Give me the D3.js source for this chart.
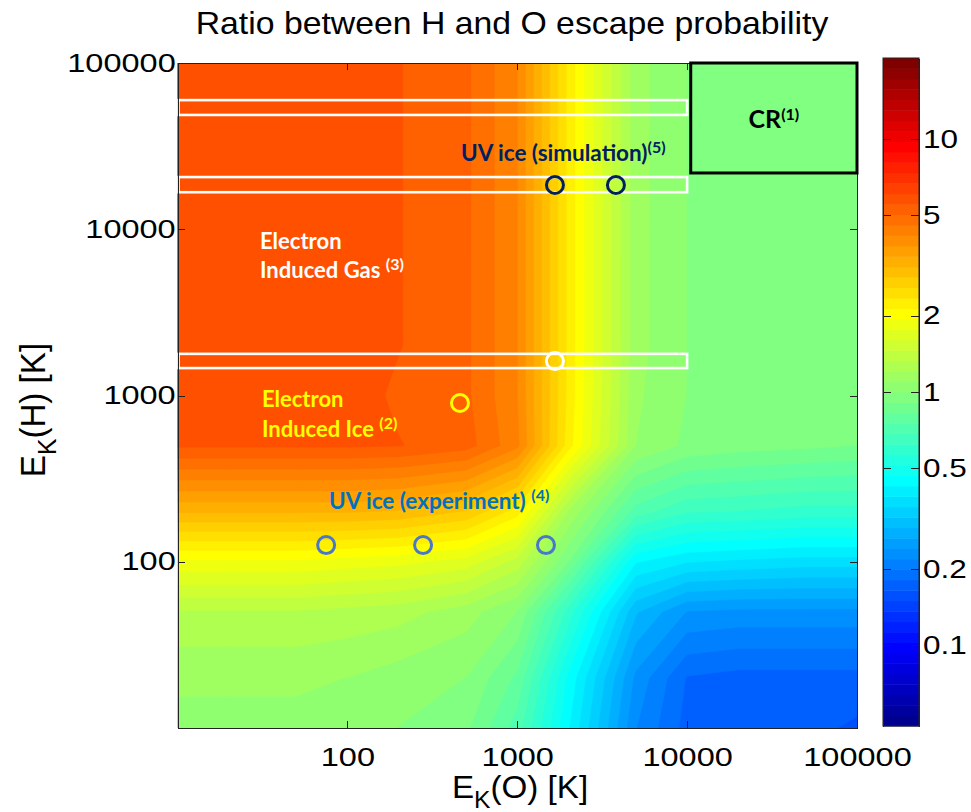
<!DOCTYPE html>
<html>
<head>
<meta charset="utf-8">
<script src="https://cdn.jsdelivr.net/npm/d3@7"></script>
<style>
	html, body { margin: 0; padding: 0; background: #fff; }
	svg { display: block; }
	.axis text { font-family: "Liberation Sans", Arial, sans-serif; font-size: 25px; fill: #000; }
	.axis path, .axis line { stroke: #222; stroke-width: 1; shape-rendering: crispEdges; }
	.label { font-family: "Liberation Sans", Arial, sans-serif; fill: #000; }
	.note { font-family: Lato, "Open Sans", sans-serif; font-weight: 700; }
</style>
</head>
<body>
<svg id="chart" width="971" height="812"></svg>
<script>
;(function() {
	"use strict";

	// kinetic energy grid of the runs (K)
	var energyO = [10, 20, 50, 100, 200, 500, 1000, 2000, 5000, 10000, 20000, 50000, 100000];
	var energyH = [10, 20, 50, 100, 200, 500, 1000, 2000, 5000, 10000, 20000, 50000, 100000];

	// ratio of H to O escape probability, one row per E_K(H), columns follow energyO
	var ratioH10     = [1.07, 1.07, 1.07, 1.05, 1.00, 0.93, 0.72, 0.43, 0.22, 0.175, 0.17, 0.17, 0.162];
	var ratioH20     = [1.12, 1.12, 1.12, 1.10, 1.05, 1.00, 0.81, 0.46, 0.235, 0.18, 0.175, 0.175, 0.175];
	var ratioH50     = [1.32, 1.32, 1.32, 1.29, 1.26, 1.15, 1.00, 0.60, 0.295, 0.24, 0.235, 0.235, 0.235];
	var ratioH100    = [1.91, 1.91, 1.91, 1.86, 1.82, 1.70, 1.41, 0.91, 0.43, 0.39, 0.38, 0.37, 0.37];
	var ratioH200    = [3.16, 3.16, 3.16, 3.16, 3.09, 2.82, 2.24, 1.20, 0.72, 0.63, 0.62, 0.60, 0.60];
	var ratioH500    = [5.62, 5.62, 5.62, 5.62, 5.56, 5.25, 4.27, 2.24, 1.10, 0.98, 0.95, 0.93, 0.91];
	var ratioH1000   = [5.82, 5.82, 5.82, 5.82, 5.43, 5.13, 4.17, 2.29, 1.12, 1.00, 0.95, 0.93, 0.93];
	var ratioH2000   = [5.82, 5.82, 5.82, 5.82, 5.56, 5.13, 4.17, 2.29, 1.14, 1.00, 0.95, 0.93, 0.93];
	var ratioH5000   = [5.82, 5.82, 5.82, 5.82, 5.56, 5.13, 4.17, 2.29, 1.14, 1.00, 0.95, 0.93, 0.93];
	var ratioH10000  = [5.82, 5.82, 5.82, 5.82, 5.56, 5.13, 4.17, 2.29, 1.14, 1.00, 0.95, 0.93, 0.93];
	var ratioH20000  = [5.82, 5.82, 5.82, 5.82, 5.56, 5.13, 4.17, 2.29, 1.14, 1.00, 0.95, 0.93, 0.93];
	var ratioH50000  = [5.82, 5.82, 5.82, 5.82, 5.56, 5.13, 4.17, 2.29, 1.14, 1.00, 0.95, 0.93, 0.93];
	var ratioH100000 = [5.82, 5.82, 5.82, 5.82, 5.56, 5.13, 4.17, 2.29, 1.14, 1.00, 0.95, 0.93, 0.93];

	var axisTicks = [100, 1000, 10000, 100000];
	var colorTicks = [0.1, 0.2, 0.5, 1, 2, 5, 10];
	var colorRange = [0.048, 20.9];

	// measurements put on top of the map
	var uvExpO = [75, 279, 1476], uvExpH = [126, 126, 126];
	var uvSimO = [1667, 3810], uvSimH = [18460, 18460];
	var eIceO = [460], eIceH = [902];
	var eGasO = [1667], eGasH = [1610];

	// E_K(H) bands of the white boxes, they run from E_K(O)=10 to 10000
	var bandLow = [48700, 16700, 1462], bandHigh = [59800, 20600, 1780];
	var bandO = [10, 10000];
	var crO = [10500, 100000], crH = [21800, 100000];

	var rows = [ratioH10, ratioH20, ratioH50, ratioH100, ratioH200, ratioH500, ratioH1000,
		ratioH2000, ratioH5000, ratioH10000, ratioH20000, ratioH50000, ratioH100000];

	var svg = d3.select("#chart");

	var x = d3.scaleLog().domain([10, 100000]).range([177.5, 857]),
		y = d3.scaleLog().domain([10, 100000]).range([728, 63]),
		cb = d3.scaleLog().domain(colorRange).range([726, 58]);

	// matlab jet(64), k = 1..64
	function jet64(k) {
		var r = k <= 24 ? 0 : k <= 40 ? (k - 24) / 16 : k <= 56 ? 1 : 1 - (k - 56) / 16,
			g = k <= 8 ? 0 : k <= 24 ? (k - 8) / 16 : k <= 40 ? 1 : k <= 56 ? 1 - (k - 40) / 16 : 0,
			b = k <= 8 ? 0.5 + k / 16 : k <= 24 ? 1 : k <= 40 ? 1 - (k - 24) / 16 : 0;
		return d3.rgb(r * 255, g * 255, b * 255).toString();
	}

	var logMin = Math.log10(colorRange[0]),
		logMax = Math.log10(colorRange[1]),
		step = (logMax - logMin) / 64,
		levels = d3.range(64).map(function(k) { return logMin + k * step; });

	// grid index -> energy, linear in log between grid nodes
	function gridEnergy(grid, g) {
		g = Math.max(0, Math.min(grid.length - 1, g));
		var i = Math.min(grid.length - 2, Math.floor(g)), f = g - i;
		var a = Math.log10(grid[i]), b = Math.log10(grid[i + 1]);
		return Math.pow(10, a + f * (b - a));
	}

	var nx = energyO.length, ny = energyH.length, values = [];
	rows.forEach(function(row) {
		row.forEach(function(v) { values.push(Math.log10(v)); });
	});

	var contours = d3.contours().size([nx, ny]).thresholds(levels)(values);

	var toPx = d3.geoTransform({
		point: function(gx, gy) {
			this.stream.point(x(gridEnergy(energyO, gx - 0.5)), y(gridEnergy(energyH, gy - 0.5)));
		}
	});
	var path = d3.geoPath(toPx);

	svg.append("clipPath").attr("id", "plot-clip")
		.append("rect").attr("x", x.range()[0]).attr("y", y.range()[1])
		.attr("width", x.range()[1] - x.range()[0]).attr("height", y.range()[0] - y.range()[1]);

	svg.append("g").attr("clip-path", "url(#plot-clip)")
		.selectAll("path").data(contours).enter().append("path")
		.attr("d", path)
		.attr("fill", function(d, i) { return jet64(i + 1); })
		.attr("stroke", function(d, i) { return jet64(i + 1); })
		.attr("stroke-width", 0.4);

	//white boxes
	svg.append("g").selectAll("rect").data(bandLow).enter().append("rect")
		.attr("x", x(bandO[0]) + 1)
		.attr("y", function(d, i) { return y(bandHigh[i]); })
		.attr("width", x(bandO[1]) - x(bandO[0]) - 1)
		.attr("height", function(d, i) { return y(d) - y(bandHigh[i]); })
		.attr("fill", "none").attr("stroke", "#fff").attr("stroke-width", 2.6);

	//axes, ticks point inwards on all four sides
	var ax = svg.append("g").attr("class", "axis").attr("transform", "translate(0," + y.range()[0] + ")")
		.call(d3.axisBottom(x).tickValues(axisTicks).tickSizeInner(-7).tickSizeOuter(0).tickPadding(20).tickFormat(d3.format("d")));
	ax.selectAll("text").attr("transform", "scale(1.3,1)");

	var ay = svg.append("g").attr("class", "axis").attr("transform", "translate(" + x.range()[0] + ",0)")
		.call(d3.axisLeft(y).tickValues(axisTicks).tickSizeInner(-7).tickSizeOuter(0).tickPadding(1.4).tickFormat(d3.format("d")));
	ay.selectAll("text").attr("transform", "scale(1.3,1)");

	svg.append("g").attr("class", "axis").attr("transform", "translate(0," + y.range()[1] + ")")
		.call(d3.axisTop(x).tickValues(axisTicks).tickSizeInner(-7).tickSizeOuter(0).tickFormat(""));
	svg.append("g").attr("class", "axis").attr("transform", "translate(" + x.range()[1] + ",0)")
		.call(d3.axisRight(y).tickValues(axisTicks).tickSizeInner(-7).tickSizeOuter(0).tickFormat(""));

	//CR box
	svg.append("rect")
		.attr("x", x(crO[0])).attr("y", y(crH[1]))
		.attr("width", x(crO[1]) - x(crO[0])).attr("height", y(crH[0]) - y(crH[1]))
		.attr("fill", "none").attr("stroke", "#000").attr("stroke-width", 3);

	//markers
	function rings(os, hs, color) {
		svg.append("g").selectAll("circle").data(os).enter().append("circle")
			.attr("cx", function(d) { return x(d); })
			.attr("cy", function(d, i) { return y(hs[i]); })
			.attr("r", 8.5)
			.attr("fill", "none").attr("stroke", color).attr("stroke-width", 3);
	}
	rings(uvSimO, uvSimH, "#002060");
	rings(eGasO, eGasH, "#fff");
	rings(eIceO, eIceH, "#ffff00");
	rings(uvExpO, uvExpH, "#4a78c8");

	//labels on the map
	var notes = [
		{ text: "UV ice (simulation)", sup: "(5)", o: 467, h: 25700, color: "#002060", size: 22.5 },
		{ text: "Electron", o: 30.6, h: 7600, color: "#fff", size: 22 },
		{ text: "Induced Gas ", sup: "(3)", o: 30.6, h: 5090, color: "#fff", size: 22 },
		{ text: "Electron", o: 31.4, h: 853, color: "#ffff00", size: 22 },
		{ text: "Induced Ice ", sup: "(2)", o: 31.4, h: 563, color: "#ffff00", size: 22 },
		{ text: "UV ice (experiment) ", sup: "(4)", o: 78, h: 207, color: "#0070c0", size: 22.5 },
		{ text: "CR", sup: "(1)", o: 32400, h: 40600, color: "#000", size: 25, anchor: "middle" }
	];

	notes.forEach(function(n) {
		var t = svg.append("text").attr("class", "note")
			.attr("x", x(n.o)).attr("y", y(n.h))
			.attr("fill", n.color).attr("font-size", n.size)
			.attr("text-anchor", n.anchor || "start");
		t.append("tspan").text(n.text);
		if (n.sup)
			t.append("tspan").attr("dy", -8).attr("font-size", 16).text(n.sup);
	});

	//colorbar
	var cbX = 883, cbW = 36;
	svg.append("g").selectAll("rect").data(levels).enter().append("rect")
		.attr("x", cbX).attr("width", cbW)
		.attr("y", function(d) { return cb(Math.pow(10, d + step)); })
		.attr("height", function(d) { return cb(Math.pow(10, d)) - cb(Math.pow(10, d + step)) + 0.5; })
		.attr("fill", function(d, i) { return jet64(i + 1); });

	var cr = svg.append("g").attr("class", "axis").attr("transform", "translate(" + (cbX + cbW) + ",0)")
		.call(d3.axisRight(cb).tickValues(colorTicks).tickSizeInner(-8).tickSizeOuter(0).tickPadding(3.2).tickFormat(d3.format("~g")));
	cr.selectAll("text").attr("transform", "scale(1.26,1)");
	svg.append("g").attr("class", "axis").attr("transform", "translate(" + cbX + ",0)")
		.call(d3.axisLeft(cb).tickValues(colorTicks).tickSizeInner(-8).tickSizeOuter(0).tickFormat(""));
	svg.append("rect").attr("x", cbX).attr("y", cb.range()[1]).attr("width", cbW)
		.attr("height", cb.range()[0] - cb.range()[1])
		.attr("fill", "none").attr("stroke", "#222").attr("stroke-width", 1);

	//title and axis names
	svg.append("text").attr("class", "label")
		.attr("transform", "translate(512,34) scale(1.09,1)")
		.attr("text-anchor", "middle").attr("font-size", 31)
		.text("Ratio between H and O escape probability");

	var xl = svg.append("text").attr("class", "label")
		.attr("transform", "translate(520,798) scale(1.07,1)")
		.attr("text-anchor", "middle").attr("font-size", 31);
	xl.append("tspan").text("E");
	xl.append("tspan").attr("dy", 10).attr("font-size", 23).text("K");
	xl.append("tspan").attr("dy", -10).text("(O) [K]");

	var yl = svg.append("text").attr("class", "label")
		.attr("transform", "translate(45,410) rotate(-90) scale(1.07,1.12)")
		.attr("text-anchor", "middle").attr("font-size", 31);
	yl.append("tspan").text("E");
	yl.append("tspan").attr("dy", 10).attr("font-size", 23).text("K");
	yl.append("tspan").attr("dy", -10).text("(H) [K]");
})();
</script>
</body>
</html>
